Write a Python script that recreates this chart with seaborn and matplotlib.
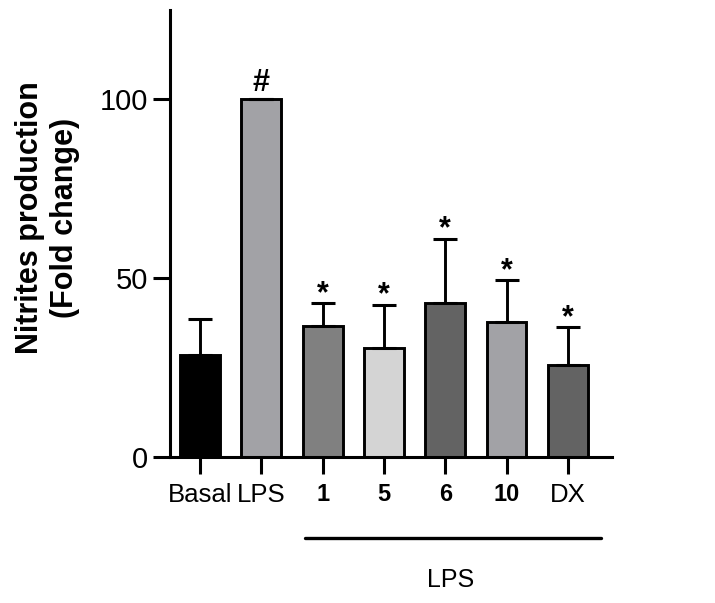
import numpy as np
import matplotlib
matplotlib.use("Agg")
import matplotlib.pyplot as plt
import seaborn as sns

# values
groups = ["Basal", "LPS", "1", "5", "6", "10", "DX"]
means = [28.6, 100.0, 36.7, 30.6, 43.1, 37.7, 25.7]
sd = [9.9, 0.0, 6.3, 12.0, 17.9, 11.7, 10.6]
marks = ["", "#", "*", "*", "*", "*", "*"]
bold_groups = ["1", "5", "6", "10"]
bar_colors = ["#000000", "#a2a2a6", "#808080", "#d4d4d4", "#636363", "#a2a2a6", "#636363"]
yticks = [0, 50, 100]

sns.set_style("ticks")
plt.rcParams["font.family"] = ["Liberation Sans", "DejaVu Sans"]
for key in ["text.color", "axes.labelcolor", "xtick.color", "ytick.color", "axes.edgecolor"]:
    plt.rcParams[key] = "black"

fig = plt.figure(figsize=(7.15, 6.03), dpi=100)
ax = fig.add_axes([170 / 715, 1 - 457 / 603, 442 / 715, 447 / 603])

sns.barplot(x=groups, y=means, hue=groups, palette=bar_colors, legend=False,
            width=0.65, edgecolor="black", linewidth=2.1, saturation=1, ax=ax)

x = np.arange(len(groups))
ax.errorbar(x, means, yerr=[np.zeros(len(sd)), sd], fmt="none", ecolor="black",
            elinewidth=2.1, capsize=8.5, capthick=2.2, zorder=5)

# significance marks
for xi, m, s, mk in zip(x, means, sd, marks):
    if mk == "#":
        ax.text(xi, m + s + 2.3, mk, ha="center", va="baseline",
                fontsize=22, fontweight="bold")
    elif mk:
        ax.text(xi, m + s + 0.4, mk, ha="center", va="baseline",
                fontsize=22, fontweight="bold")

ax.set_ylim(0, 125)
ax.set_xlim(-0.49, 6.72)
ax.set_yticks(yticks)
ax.set_ylabel("Nitrites production\n(Fold change)", fontsize=22,
              fontweight="bold", linespacing=1.2)
ax.yaxis.set_label_coords(-0.204, 0.535)
ax.set_xlabel("")
ax.tick_params(axis="y", labelsize=21, width=2.2, length=12, pad=4)
ax.tick_params(axis="x", labelsize=18.5, width=2.2, length=12, pad=7)
for lab in ax.get_xticklabels():
    if lab.get_text() in bold_groups:
        lab.set_fontweight("bold")
        lab.set_fontsize(17)

sns.despine(ax=ax)
ax.spines["left"].set_linewidth(2.2)
ax.spines["bottom"].set_linewidth(2.2)

# group line under the treated bars
ax.plot([1.71, 6.54], [-22.7, -22.7], color="black", lw=2.4, clip_on=False)
ax.text(4.08, -34.5, "LPS", ha="center", va="center", fontsize=18)

fig.savefig("out.png", dpi=100)
